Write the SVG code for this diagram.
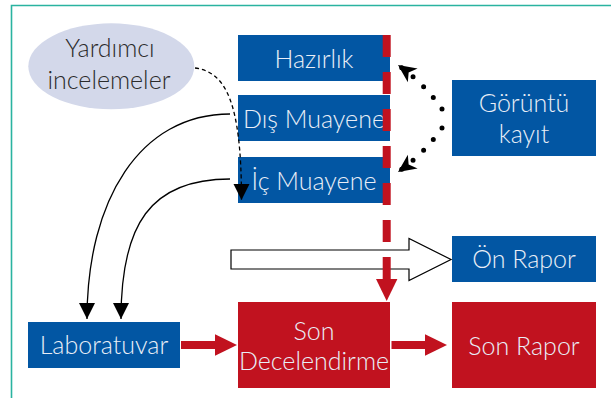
<svg xmlns="http://www.w3.org/2000/svg" width="611" height="398" viewBox="0 0 611 398">
<style>
  .blue { fill: #0256a3; }
  .red { fill: #c1121f; }
  .lbl { font-family: "Lato", "Liberation Sans", sans-serif; font-weight: 300; font-size: 25px; fill: #e9eef7; text-anchor: middle; }
  .dark { fill: #2b2b2b; }
  .curve { fill: none; stroke: #000; stroke-width: 1.3; }
</style>
<defs>
  <marker id="blackHead" markerUnits="userSpaceOnUse" markerWidth="20" markerHeight="20" viewBox="-18 -10 20 20" refX="0" refY="0" orient="auto">
    <path d="M0,0 L-16,-8 L-16,8 Z" fill="#000"/>
  </marker>
  <marker id="dotHead" markerUnits="userSpaceOnUse" markerWidth="22" markerHeight="22" viewBox="-20 -11 22 22" refX="0" refY="0" orient="auto">
    <path d="M0,0 L-18,-8.5 L-13,0 L-18,8.5 Z" fill="#000"/>
  </marker>
  <marker id="redHead" markerUnits="userSpaceOnUse" markerWidth="24" markerHeight="24" viewBox="0 -12 24 24" refX="0" refY="0" orient="auto">
    <path d="M0,-10.7 L22,0 L0,10.7 Z" fill="#c1121f"/>
  </marker>
</defs>

<path d="M11.5,398 V5.5 H611" fill="none" stroke="#2ab3a0" stroke-width="1.6"/>

<g id="yardimci">
  <ellipse cx="111.3" cy="66.3" rx="83" ry="43" fill="#d3d8ea"/>
  <text class="lbl dark" x="110" y="57.3">Yardımcı</text>
  <text class="lbl dark" x="109" y="89.3">incelemeler</text>
</g>
<g id="hazirlik">
  <rect class="blue" x="238" y="35" width="152" height="46"/>
  <text class="lbl" x="314" y="67.7">Hazırlık</text>
</g>
<g id="dis-muayene">
  <rect class="blue" x="238" y="95" width="152" height="46"/>
  <text class="lbl" x="314" y="128.3">Dış Muayene</text>
</g>
<g id="ic-muayene">
  <rect class="blue" x="238" y="157" width="152" height="46"/>
  <text class="lbl" x="314" y="190">İç Muayene</text>
</g>
<g id="goruntu-kayit">
  <rect class="blue" x="452" y="80" width="144" height="76"/>
  <text class="lbl" x="524" y="111.7">Görüntü</text>
  <text class="lbl" x="524" y="142.5">kayıt</text>
</g>
<g id="on-rapor">
  <rect class="blue" x="452" y="236" width="144" height="46"/>
  <text class="lbl" x="524" y="268.3">Ön Rapor</text>
</g>
<g id="laboratuvar">
  <rect class="blue" x="28" y="322" width="152" height="46"/>
  <text class="lbl" x="104" y="354.3">Laboratuvar</text>
</g>
<g id="son-decelendirme">
  <rect class="red" x="238" y="302" width="152" height="86"/>
  <text class="lbl" x="314" y="340">Son</text>
  <text class="lbl" x="314" y="370">Decelendirme</text>
</g>
<g id="son-rapor">
  <rect class="red" x="452" y="302" width="144" height="86"/>
  <text class="lbl" x="524" y="355">Son Rapor</text>
</g>

<g id="connectors">
  <path class="curve" d="M230,114 C140,114 87,200 87,319" marker-end="url(#blackHead)"/>
  <path class="curve" d="M230,179 C150,179 121,225 121,319" marker-end="url(#blackHead)"/>
  <path class="curve" d="M195,68 C225,72 241.5,100 241.5,200" stroke-dasharray="4 3" stroke-width="1.2" marker-end="url(#blackHead)"/>
  <path d="M442,109 Q425,84 398,65" fill="none" stroke="#000" stroke-width="5" stroke-linecap="round" stroke-dasharray="0 14.5" marker-end="url(#dotHead)"/>
  <path d="M442,128 Q425,153 398,172" fill="none" stroke="#000" stroke-width="5" stroke-linecap="round" stroke-dasharray="0 14.5" marker-end="url(#dotHead)"/>
  <polygon points="231,250 409,250 409,238.5 451,259.5 409,280.5 409,269 231,269" fill="#fff" stroke="#000" stroke-width="1.2"/>
  <path d="M386.7,35 V279" stroke="#c1121f" stroke-width="8" stroke-dasharray="22 15" marker-end="url(#redHead)"/>
  <path d="M181,345 H215" stroke="#c1121f" stroke-width="8" marker-end="url(#redHead)"/>
  <path d="M391.5,345 H425" stroke="#c1121f" stroke-width="8" marker-end="url(#redHead)"/>
</g>
</svg>
